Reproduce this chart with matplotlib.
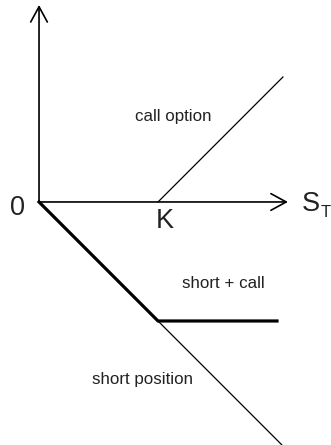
import numpy as np
import matplotlib.pyplot as plt

plt.rcParams['font.family'] = ['Liberation Sans', 'DejaVu Sans']

# payoff diagram data (strike K = 1)
K = 1.0
s_short = np.array([0.0, 2.04])
short_payoff = -s_short
s_call = np.array([K, 2.05])
call_payoff = s_call - K
s_combo = np.array([0.0, K, 2.0])
combo_payoff = np.array([0.0, -1.0, -1.0])

x_axis_end = 2.092
y_axis_end = 1.655

fig = plt.figure(figsize=(3.31, 4.45), dpi=100)
ax = fig.add_axes([0, 0, 1, 1])
ax.set_xlim(-0.328, 2.454)
ax.set_ylim(-2.042, 1.697)
ax.axis('off')

arrow = dict(arrowstyle='->,head_length=0.55,head_width=0.3', color='black',
             lw=1.2, mutation_scale=20, shrinkA=0, shrinkB=0)
ax.annotate('', xy=(x_axis_end, 0), xytext=(0, 0), arrowprops=arrow)
ax.annotate('', xy=(0, y_axis_end), xytext=(0, 0), arrowprops=arrow)

ax.plot(s_call, call_payoff, color='black', lw=0.9)
ax.plot(s_short, short_payoff, color='black', lw=0.9)
ax.plot(s_combo, combo_payoff, color='black', lw=2.3, solid_joinstyle='miter')

big = dict(fontsize=19.5, color='#222222', va='baseline')
ax.text(-0.179, -0.109, '0', ha='center', **big)
ax.text(1.055, -0.218, 'K', ha='center', **big)
ax.text(2.21, -0.076, 'S', ha='left', **big)
ax.text(2.368, -0.126, 'T', fontsize=12, color='#222222', ha='left', va='baseline')

small = dict(fontsize=12.2, color='#222222', ha='center', va='baseline')
ax.text(1.126, 0.681, 'call option', **small)
ax.text(1.545, -0.723, 'short + call', **small)
ax.text(0.866, -1.529, 'short position', **small)

fig.savefig('out.png', dpi=100)
